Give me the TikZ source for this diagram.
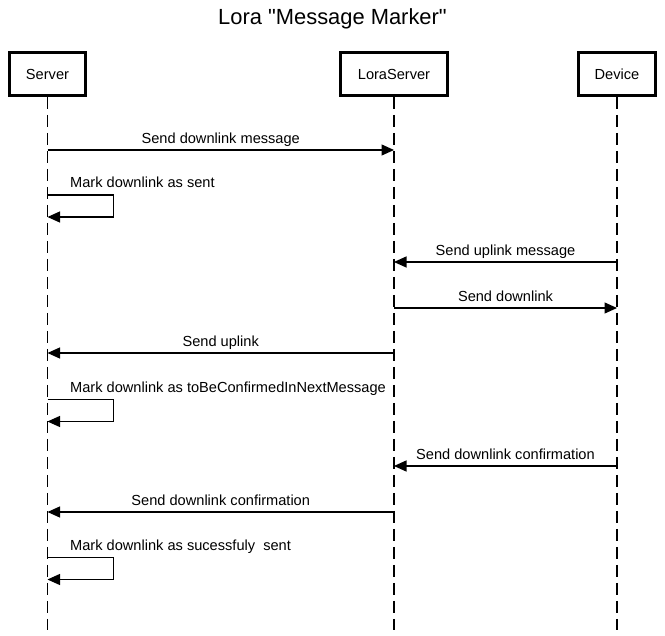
\documentclass[tikz,border=0pt]{standalone}
\usepackage{fontspec}
\setmainfont{Liberation Sans}[Ligatures=TeXOff]
\usetikzlibrary{arrows.meta, calc}
\tikzset{actor/.style={draw, line width=2.6pt, minimum height=43.4pt, inner sep=0pt, font=\fontsize{14.6}{17}\selectfont}}
\tikzset{lifeline/.style={line width=1.2pt, dash pattern=on 12pt off 6pt}}
\tikzset{msg/.style={line width=1.2pt, -{Triangle[length=12.5pt, width=11pt]}}}
\tikzset{msglabel/.style={inner sep=0pt, anchor=base, font=\fontsize{14.6}{17}\selectfont}}
\newcommand{\drawmsg}[4]{\draw[msg] (#1 |- 0,#3) -- (#2 |- 0,#3) node[midway, msglabel, yshift=6pt] {#4}}
\newcommand{\drawself}[3]{\draw[msg] (#1 |- 0,#2) -| ++(66,22) -- ++(-66,0);
 \node[msglabel, anchor=base west] at ($(#1 |- 0,#2)+(22.5,-7)$) {#3}}

\begin{document}
\begin{tikzpicture}[x=1pt, y=-1pt]
		\useasboundingbox (0,0) rectangle (665,636);

		% Title
		\node[msglabel, font=\fontsize{21.9}{26}\selectfont] (title) at (332.5,25) {Lora "Message Marker"};

		% Actors
		\node[actor, minimum width=76.4pt] (srv) at (47.5,74) {Server};
		\node[actor, minimum width=107.4pt] (lsrv) at (394,74) {LoraServer};
		\node[actor, minimum width=77.4pt] (dev) at (617,74) {Device};

		% Lifelines
		\coordinate (srvend) at (srv |- 0,630);
		\coordinate (lsrvend) at (lsrv |- 0,630);
		\coordinate (devend) at (dev |- 0,630);
		\draw[lifeline] (srv.south) -- (srvend);
		\draw[lifeline] (lsrv.south) -- (lsrvend);
		\draw[lifeline] (dev.south) -- (devend);

		% Messages
		\drawmsg{srv}{lsrv}{150}{Send downlink message};
		\drawself{srv}{195}{Mark downlink as sent};
		\drawmsg{dev}{lsrv}{262}{Send uplink message};
		\drawmsg{lsrv}{dev}{308}{Send downlink};
		\drawmsg{lsrv}{srv}{353}{Send uplink};
		\drawself{srv}{399.5}{Mark downlink as toBeConfirmedInNextMessage};
		\drawmsg{dev}{lsrv}{466}{Send downlink confirmation};
		\drawmsg{lsrv}{srv}{512}{Send downlink confirmation};
		\drawself{srv}{557.5}{Mark downlink as sucessfuly\ \ sent};
	\end{tikzpicture}
\end{document}
